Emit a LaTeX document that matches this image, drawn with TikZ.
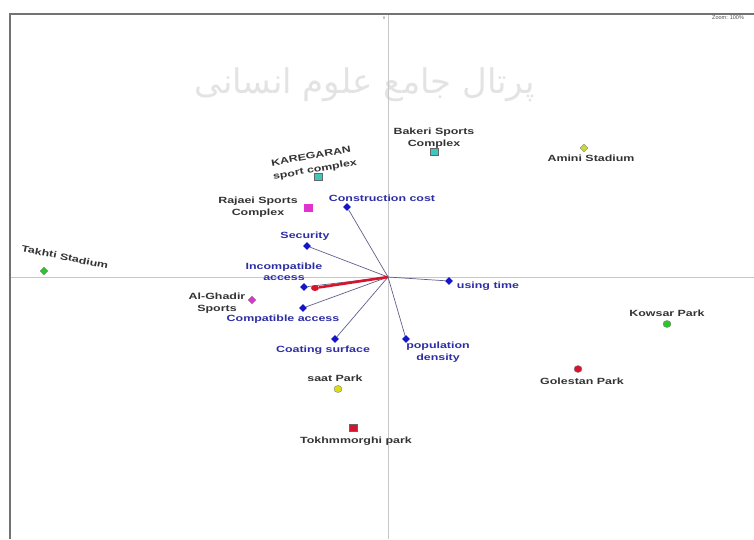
\documentclass[tikz,border=0pt]{standalone}
\usepackage{fontspec}
\setmainfont{Liberation Sans}
\newfontfamily\labfont{Liberation Sans}[FakeStretch=1.38]
\newfontfamily\persianfont[Script=Arabic]{DejaVu Sans}
\TeXXeTstate=1
\usetikzlibrary{shapes.geometric}

\definecolor{vecblue}{RGB}{20,20,200}
\definecolor{labblue}{RGB}{45,45,165}
\definecolor{vecline}{RGB}{95,95,140}
\definecolor{magpt}{RGB}{225,50,205}
\definecolor{cyanpt}{RGB}{60,200,190}
\definecolor{greenpt}{RGB}{40,200,40}
\definecolor{limept}{RGB}{200,220,50}
\definecolor{redpt}{RGB}{215,20,45}
\definecolor{yelpt}{RGB}{220,220,20}

\tikzset{
  vec/.style={diamond, fill=vecblue, inner sep=0pt, minimum size=8pt},
  vlab/.style={font=\labfont\fontsize{9}{11.5}\selectfont\bfseries, text=labblue, align=center, inner sep=0pt},
  plab/.style={vlab, text=black!80},
  sq/.style={rectangle, draw=black!60, line width=0.4pt, inner sep=0pt, minimum width=8pt, minimum height=7pt},
  dm/.style={diamond, draw=black!50, line width=0.4pt, inner sep=0pt, minimum size=8pt},
  dot/.style={ellipse, draw=black!50, line width=0.4pt, inner sep=0pt, minimum width=8pt, minimum height=7pt},
  vline/.style={draw=vecline, line width=0.7pt},
  axis/.style={draw=black!22, line width=0.6pt},
  frame/.style={draw=black!55, line width=1.2pt},
}

\begin{document}
\begin{tikzpicture}[x=1pt,y=-1pt]
    \useasboundingbox (0,0) rectangle (754,539);

    % watermark
    \node[text=black!11, font=\persianfont\fontsize{34}{34}\selectfont] (wm) at (365,85) {\beginR پرتال جامع علوم انسانی\endR};

    % frame and axes
    \coordinate (TL) at (10,14);
    \coordinate (TR) at (754,14);
    \coordinate (BL) at (10,539);
    \coordinate (Vt) at (388,14);
    \coordinate (Vb) at (388,539);
    \coordinate (Hl) at (10,277);
    \coordinate (Hr) at (754,277);
    \coordinate (O) at (388,277);

    \draw[axis] (Vt) -- (Vb);
    \draw[axis] (Hl) -- (Hr);
    \draw[frame] (TR) -- (TL) -- (BL);

    \node[text=black!60, font=\fontsize{5}{5}\selectfont, inner sep=0pt] (v) at (384,18) {v};
    \node[text=black!70, font=\fontsize{5.5}{6}\selectfont, anchor=west, inner sep=0pt] (zoom) at (712,18) {Zoom: 100\%};

    % variables
    \node[vec] (cc)   at (347,207) {};
    \node[vec] (sec)  at (307,246) {};
    \node[vec] (inc)  at (304,287) {};
    \node[vec] (comp) at (303,308) {};
    \node[vec] (coat) at (335,339) {};
    \node[vec] (pop)  at (406,339) {};
    \node[vec] (use)  at (449,281) {};

    \foreach \v in {cc,sec,inc,comp,coat,pop,use}
        \draw[vline] (O) -- (\v);

    \node[vlab] (cc-l)   at (382,198) {Construction cost};
    \node[vlab] (sec-l)  at (305,236) {Security};
    \node[vlab] (inc-l)  at (284,272) {Incompatible\\access};
    \node[vlab] (comp-l) at (283,319) {Compatible access};
    \node[vlab] (coat-l) at (323,350) {Coating surface};
    \node[vlab] (pop-l)  at (438,352) {population\\density};
    \node[vlab] (use-l)  at (488,286) {using time};

    % red axis
    \node[ellipse, fill=redpt, inner sep=0pt, minimum width=8pt, minimum height=6pt] (red) at (315,288) {};
    \draw[redpt, line width=2.6pt] (O) -- (red);

    % places
    \node[dm, fill=greenpt]  (takhti) at (44,271) {};
    \node[dm, fill=magpt]    (ghadir) at (252,300) {};
    \node[sq, fill=magpt, draw=magpt] (rajaei) at (308,208) {};
    \node[sq, fill=cyanpt]   (kareg)  at (318,177) {};
    \node[sq, fill=cyanpt]   (bakeri) at (434,152) {};
    \node[dm, fill=limept]   (amini)  at (584,148) {};
    \node[dot, fill=greenpt, rounded corners=1pt] (kowsar) at (667,324) {};
    \node[dot, fill=redpt]   (golest) at (578,369) {};
    \node[dot, fill=yelpt]   (saat)   at (338,389) {};
    \node[sq, fill=redpt]    (tokh)   at (353,428) {};

    \node[plab, rotate=-11.5] (takhti-l) at (65,257) {Takhti Stadium};
    \node[plab] (ghadir-l) at (217,303) {Al-Ghadir\\Sports};
    \node[plab] (rajaei-l) at (258,207) {Rajaei Sports\\Complex};
    \node[plab, rotate=10] (kareg-l1) at (311,156) {KAREGARAN};
    \node[plab, rotate=10] (kareg-l2) at (315,170) {sport complex};
    \node[plab] (bakeri-l) at (434,138) {Bakeri Sports\\Complex};
    \node[plab] (amini-l)  at (591,158) {Amini Stadium};
    \node[plab] (kowsar-l) at (667,313) {Kowsar Park};
    \node[plab] (golest-l) at (582,381) {Golestan Park};
    \node[plab] (saat-l)   at (335,378) {saat Park};
    \node[plab] (tokh-l)   at (356,441) {Tokhmmorghi park};

\end{tikzpicture}
\end{document}
